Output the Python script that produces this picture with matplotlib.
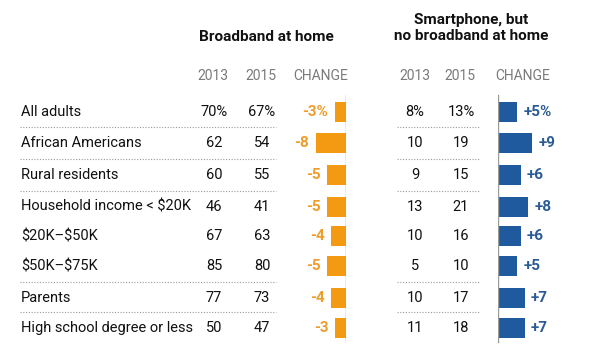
import numpy as np
import matplotlib.pyplot as plt

plt.rcParams['font.family'] = ['Roboto', 'DejaVu Sans']
plt.rcParams['text.parse_math'] = False

groups = ["All adults", "African Americans", "Rural residents",
          "Household income < $20K", "$20K\u2013$50K", "$50K\u2013$75K",
          "Parents", "High school degree or less"]
bb_2013 = [70, 62, 60, 46, 67, 85, 77, 50]
bb_2015 = [67, 54, 55, 41, 63, 80, 73, 47]
bb_change = [-3, -8, -5, -5, -4, -5, -4, -3]
sp_2013 = [8, 10, 9, 13, 10, 5, 10, 11]
sp_2015 = [13, 19, 15, 21, 16, 10, 17, 18]
sp_change = [5, 9, 6, 8, 6, 5, 7, 7]

ORANGE = '#F39A12'
ORANGE_TXT = '#EE9D2C'
BLUE = '#1F5A9E'
BLUE_TXT = '#2A5B96'
GRAY = '#7a7a7a'
W, H = 608, 350

# layout (pixels from top-left)
row_y = [112, 143, 175, 207, 236, 266, 298, 328]
sep_y = [127, 159, 191, 282, 312]
px_per_unit = 3.8

fig = plt.figure(figsize=(W / 100, H / 100), dpi=100)
ax = fig.add_axes([0, 0, 1, 1])
ax.set_xlim(0, W)
ax.set_ylim(H, 0)
ax.axis('off')

# titles
ax.text(266, 37, "Broadband at home", ha='center', va='center',
        fontsize=11, fontweight='bold', color='#111111')
ax.text(471, 28, "Smartphone, but\nno broadband at home", ha='center',
        va='center', fontsize=11, fontweight='bold', color='#111111',
        linespacing=1.2)

# column headers
for x, s in [(213, "2013"), (261, "2015"), (415, "2013"), (460, "2015")]:
    ax.text(x, 76, s, ha='center', va='center', fontsize=10, color=GRAY)
ax.text(348, 76, "CHANGE", ha='right', va='center', fontsize=10, color=GRAY)
ax.text(495, 76, "CHANGE", ha='left', va='center', fontsize=10, color=GRAY)

# separators
for y in sep_y:
    ax.plot([20, 276], [y, y], color='#9a9a9a', lw=0.8, ls=(0, (1, 1.5)))
    ax.plot([397, 479], [y, y], color='#9a9a9a', lw=0.8, ls=(0, (1, 1.5)))

# table text
for i, g in enumerate(groups):
    y = row_y[i]
    pct = '%' if i == 0 else ''
    ax.text(21, y, g, ha='left', va='center', fontsize=10.5, color='#111111')
    ax.text(214, y, f"{bb_2013[i]}{pct}", ha='center', va='center', fontsize=10.5, color='#111111')
    ax.text(262, y, f"{bb_2015[i]}{pct}", ha='center', va='center', fontsize=10.5, color='#111111')
    ax.text(415, y, f"{sp_2013[i]}{pct}", ha='center', va='center', fontsize=10.5, color='#111111')
    ax.text(461, y, f"{sp_2015[i]}{pct}", ha='center', va='center', fontsize=10.5, color='#111111')

# change bars - left (broadband)
span = 10
axl = fig.add_axes([(346 - span * px_per_unit) / W, 0, span * px_per_unit / W, 1])
axl.set_xlim(-span, 0)
axl.set_ylim(H, 0)
axl.axis('off')
axl.barh(row_y, bb_change, height=20, color=ORANGE)
axl.plot([0, 0], [95, 342], color='#999999', lw=1)
for i, c in enumerate(bb_change):
    lab = f"{c}%" if i == 0 else f"{c}"
    axl.annotate(lab, (c, row_y[i]), xytext=(-4.5, 0), textcoords='offset points',
                 ha='right', va='center', fontsize=11, fontweight='bold',
                 color=ORANGE_TXT)

# change bars - right (smartphone only)
axr = fig.add_axes([498 / W, 0, span * px_per_unit / W, 1])
axr.set_xlim(0, span)
axr.set_ylim(H, 0)
axr.axis('off')
axr.barh(row_y, sp_change, height=20, color=BLUE)
axr.plot([0, 0], [95, 342], color='#999999', lw=1)
for i, c in enumerate(sp_change):
    lab = f"+{c}%" if i == 0 else f"+{c}"
    axr.annotate(lab, (c, row_y[i]), xytext=(4.5, 0), textcoords='offset points',
                 ha='left', va='center', fontsize=11, fontweight='bold',
                 color=BLUE_TXT, annotation_clip=False)

fig.savefig('out.png', dpi=100, facecolor='white')
